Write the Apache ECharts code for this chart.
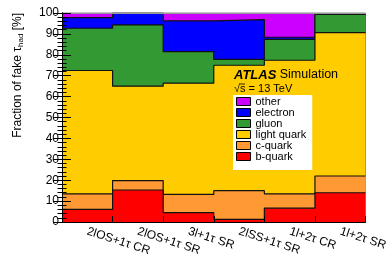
<!DOCTYPE html>
<html>
<head>
<meta charset="utf-8">
<script src="https://cdn.jsdelivr.net/npm/echarts@6/dist/echarts.min.js"></script>
<style>html,body{margin:0;padding:0;background:#fff}#c{width:390px;height:265px}</style>
</head>
<body>
<div id="c"></div>
<script>
// Data (fractions in %, per region)
var categories = ['2lOS+1\u03c4 CR', '2lOS+1\u03c4 SR', '3l+1\u03c4 SR', '2lSS+1\u03c4 SR', '1l+2\u03c4 CR', '1l+2\u03c4 SR'];
var bQuark     = [6.0, 15.3, 4.5, 1.3, 6.6, 14.0];
var cQuark     = [7.5, 4.5, 8.7, 13.7, 6.9, 8.0];
var lightQuark = [59.0, 45.2, 53.2, 60.0, 63.9, 68.6];
var gluon      = [20.2, 29.3, 15.1, 2.8, 10.0, 8.7];
var electron   = [5.1, 5.7, 14.7, 19.0, 1.0, 0.4];
var other      = [2.2, 0.0, 3.8, 3.2, 11.6, 0.3];
var yTicks = [0, 10, 20, 30, 40, 50, 60, 70, 80, 90, 100];

var layers = [
  {name: 'b-quark', data: bQuark, color: '#FF0000'},
  {name: 'c-quark', data: cQuark, color: '#FF9933'},
  {name: 'light quark', data: lightQuark, color: '#FFCC00'},
  {name: 'gluon', data: gluon, color: '#339933'},
  {name: 'electron', data: electron, color: '#0000FF'},
  {name: 'other', data: other, color: '#CC00FF'}
];

// cumulative sums (stack) computed from the arrays above
var running = categories.map(function () { return 0; });
var stacked = layers.map(function (l) {
  var cum = l.data.map(function (v, i) { running[i] += v; return running[i]; });
  return {name: l.name, color: l.color, cum: cum};
});

function stepData(arr) {
  var out = [];
  for (var i = 0; i < arr.length; i++) out.push([i, arr[i]]);
  out.push([arr.length, arr[arr.length - 1]]);
  return out;
}

// draw the highest cumulative layer first so lower layers paint over it
var series = stacked.slice().reverse().map(function (l, k) {
  return {
    name: l.name,
    type: 'line',
    step: 'end',
    xAxisIndex: 0,
    yAxisIndex: 0,
    showSymbol: false,
    symbol: 'none',
    z: 2 + k * 0.01,
    data: stepData(l.cum),
    itemStyle: {color: l.color},
    lineStyle: {color: '#111', width: 1.2},
    areaStyle: {color: l.color, opacity: 1},
    emphasis: {disabled: true},
    animation: false
  };
});

var chart = echarts.init(document.getElementById('c'));
var font = 'Liberation Sans, Arial, sans-serif';
chart.setOption({
  animation: false,
  grid: {left: 62, right: 20, top: 13, bottom: 43},
  xAxis: [
    {type: 'value', min: 0, max: 6, interval: 1, position: 'bottom', z: 10,
     axisLine: {show: true, lineStyle: {color: '#000', width: 1}},
     axisTick: {show: true, inside: true, length: 6, lineStyle: {color: '#000'}},
     axisLabel: {show: false}, splitLine: {show: false}},
    {type: 'category', data: categories, position: 'bottom', boundaryGap: true, z: 10,
     axisLine: {show: false}, axisTick: {show: false}, splitLine: {show: false},
     axisLabel: {rotate: -18, margin: 9, fontSize: 12, color: '#000', fontFamily: font, interval: 0}},
    {type: 'value', min: 0, max: 6, position: 'top', z: 10,
     axisLine: {show: true, lineStyle: {color: '#999', width: 1}},
     axisTick: {show: false}, axisLabel: {show: false}, splitLine: {show: false}}
  ],
  yAxis: [
    {type: 'value', min: yTicks[0], max: yTicks[yTicks.length - 1], interval: 10, position: 'left', z: 10,
     axisLine: {show: true, lineStyle: {color: '#000', width: 1}},
     axisTick: {show: true, inside: true, length: 9, lineStyle: {color: '#000'}},
     minorTick: {show: true, splitNumber: 5, length: 4.5, lineStyle: {color: '#000'}},
     axisLabel: {fontSize: 12, color: '#000', fontFamily: font, margin: 3},
     splitLine: {show: false}},
    {type: 'value', min: yTicks[0], max: yTicks[yTicks.length - 1], interval: 10, position: 'right', z: 10,
     axisLine: {show: true, lineStyle: {color: '#000', width: 1}},
     axisTick: {show: true, inside: true, length: 9, lineStyle: {color: '#000'}},
     minorTick: {show: true, splitNumber: 5, length: 4.5, lineStyle: {color: '#000'}},
     axisLabel: {show: false}, splitLine: {show: false}}
  ],
  legend: {
    orient: 'vertical', left: 233, top: 95,
    data: ['other', 'electron', 'gluon', 'light quark', 'c-quark', 'b-quark'],
    icon: 'rect', itemWidth: 14, itemHeight: 8, itemGap: 0,
    backgroundColor: '#fff', padding: [1, 6, 8, 3], z: 20,
    itemStyle: {borderColor: '#000', borderWidth: 1},
    textStyle: {fontSize: 11, color: '#000', fontFamily: font, lineHeight: 11},
    selectedMode: false
  },
  graphic: [
    {type: 'text', x: 18, y: 13, rotation: Math.PI / 2, z: 20,
     style: {text: '{m|Fraction of fake \u03c4}{s|had}{m| [%]}', align: 'right', verticalAlign: 'middle',
       rich: {m: {fontSize: 12, fontFamily: font, fill: '#000'},
              s: {fontSize: 8, fontFamily: font, fill: '#000', padding: [6, 0, 0, 0]}}}},
    {type: 'text', x: 234, y: 75, z: 20,
     style: {text: '{a|ATLAS} {b|Simulation}', verticalAlign: 'middle',
       rich: {a: {fontSize: 13, fontWeight: 'bold', fontStyle: 'italic', fontFamily: font, fill: '#000'},
              b: {fontSize: 12.5, fontFamily: font, fill: '#000'}}}},
    {type: 'text', x: 234, y: 89, z: 20,
     style: {text: '\u221as = 13 TeV', fontSize: 11, fontFamily: font, fill: '#000', verticalAlign: 'middle'}},
    {type: 'line', z: 20, shape: {x1: 240, y1: 84, x2: 245, y2: 84}, style: {stroke: '#000', lineWidth: 0.8}}
  ],
  series: series
});
</script>
</body>
</html>
